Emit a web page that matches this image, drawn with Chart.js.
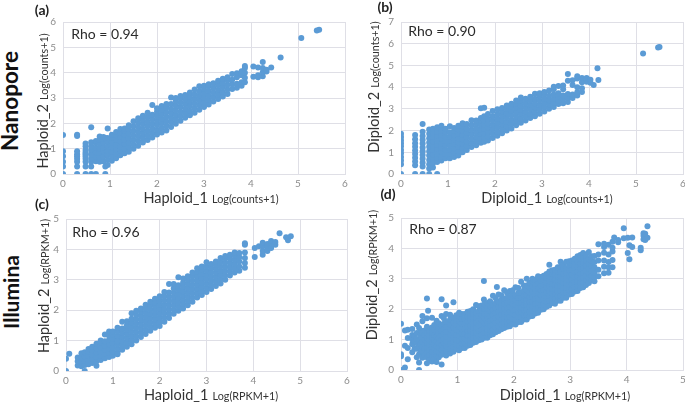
<!DOCTYPE html>
<html>
<head>
<meta charset="utf-8">
<script src="https://cdn.jsdelivr.net/npm/chart.js@4"></script>
<style>
  html, body { margin: 0; padding: 0; background: #fff; overflow: hidden; width: 685px; height: 402px; }
  canvas { position: absolute; filter: blur(0.35px); }
  .txt { position: absolute; white-space: nowrap; font-family: Lato, "Open Sans", sans-serif; color: #333; transform: translate(-50%, -50%); line-height: 1; }
  .rot { transform: translate(-50%, -50%) rotate(-90deg); }
  .rho { font-size: 14px; color: #2b2b2b; }
  .tag { font-size: 14px; font-weight: bold; color: #222; }
  .side { font-size: 22.5px; font-weight: bold; color: #111; }
  .side2 { font-size: 21px; font-weight: bold; color: #111; }
  .big { font-size: 14.5px; }
  .small { font-size: 10.8px; }
</style>
</head>
<body>
<canvas id="a"></canvas>
<canvas id="b"></canvas>
<canvas id="c"></canvas>
<canvas id="d"></canvas>
<script>
// each row: x value, then the y values read at that x
const nanoHaploid = [
  [0, 0,.3,.48,.7,.9,1.54],
  [.3, 0,.3,.48,.6,.7,.78,.9,1.5,1.55],
  [.48, 0,.3,.48,.6,.7,.78,.85,.95,1.1,1.2],
  [.6, 0,.3,.48,.6,.78,.95,1.1,1.25,1.85],
  [.7, 0,.5,.68,.86,1.04,1.22,1.3],
  [.78, .48,.66,.84,1.02,1.2,1.34,1.48],
  [.86, .5,.7,.88,1.06,1.24,1.38,1.46],
  [.9, 0,.3,1.42],
  [.95, .36,.55,.74,.92,1.1,1.28,1.42,1.8],
  [1.04, .52,.7,.88,1.06,1.24,1.42,1.55],
  [1.13, .62,.8,.98,1.16,1.34,1.52,1.66],
  [1.22, .74,.92,1.1,1.28,1.46,1.62,1.78],
  [1.31, .82,1,1.18,1.36,1.54,1.7,1.8],
  [1.4, .88,1.06,1.24,1.42,1.6,1.78,1.92],
  [1.5, 1,1.16,1.34,1.52,1.7,1.88,2.08],
  [1.6, 1.12,1.3,1.48,1.66,1.84,2.02,2.2],
  [1.7, 1.24,1.42,1.6,1.78,1.96,2.14,2.3],
  [1.8, 1.34,1.52,1.7,1.88,2.06,2.24,2.42],
  [1.9, 1.44,1.62,1.8,1.98,2.16,2.34,2.72],
  [2, 1.56,1.74,1.92,2.1,2.28,2.46,2.6],
  [2.1, 1.64,1.82,2,2.18,2.36,2.54,2.68],
  [2.2, 1.72,1.9,2.08,2.26,2.44,2.62,2.76],
  [2.3, 1.86,2.04,2.22,2.4,2.58,2.76,3.02],
  [2.4, 1.98,2.16,2.34,2.52,2.7,2.88,3],
  [2.5, 2.1,2.28,2.46,2.64,2.82,3,3.08],
  [2.6, 2.22,2.4,2.58,2.76,2.94,3.12],
  [2.7, 2.32,2.5,2.68,2.86,3.04,3.22],
  [2.8, 2.42,2.6,2.78,2.96,3.14,3.34],
  [2.9, 2.54,2.72,2.9,3.08,3.26,3.46],
  [3, 2.64,2.82,3,3.18,3.36,3.48],
  [3.1, 2.74,2.92,3.1,3.28,3.46,3.54],
  [3.2, 2.86,3.04,3.22,3.4,3.58],
  [3.3, 2.96,3.14,3.32,3.5,3.68],
  [3.4, 3.06,3.24,3.42,3.6,3.76],
  [3.5, 3.16,3.34,3.52,3.7,3.82],
  [3.6, 3.36,3.54,3.72,3.95],
  [3.7, 3.4,3.56,3.82,3.98],
  [3.8, 3.48,3.62,3.9,4.06],
  [3.87, 3.62,3.8,4,4.18,4.26],
  [4.05, 3.84,4.24],
  [4.15, 3.82,3.9,4.2],
  [4.25, 3.86,4.02,4.18,4.42],
  [4.33, 4.05,4.12],
  [4.43, 4.2],
  [4.63, 4.6],
  [5.07, 5.37],
  [5.4, 5.66],
  [5.45, 5.69]
];

const nanoDiploid = [
  [0, 0,.45,.62,.78,.95,1.1,1.28,1.42,1.55,1.7,1.85],
  [.3, 0,.4,.58,.75,.92,1.08,1.25,1.42,1.6,1.8],
  [.46, 0,.35,.52,.7,.88,1.05,1.22,1.4,1.58,1.75,1.95,2.3],
  [.6, 0,.25,.45,.65,.85,1.05,1.25,1.45,1.65,1.85,2.05],
  [.68, .3,.5,.7,.9,1.1,1.3,1.5,1.7,1.9,2.08],
  [.77, 0,.55,.75,.95,1.15,1.35,1.55,1.75,1.95,2.15],
  [.86, .62,.82,1.02,1.22,1.42,1.62,1.82,2,2.22],
  [.95, .72,.92,1.12,1.32,1.52,1.72,1.92,2.08],
  [1.04, .72,.92,1.12,1.32,1.52,1.72,1.92,2.2],
  [1.13, .78,.98,1.18,1.38,1.58,1.78,1.98,2.12],
  [1.22, .85,1.05,1.25,1.45,1.65,1.85,2.05,2.22],
  [1.31, 1,1.2,1.4,1.6,1.8,2,2.2,2.34],
  [1.4, 1.1,1.3,1.5,1.7,1.9,2.1,2.3],
  [1.5, 1.24,1.44,1.64,1.84,2.04,2.24,2.48],
  [1.6, 1.32,1.52,1.72,1.92,2.12,2.32,2.46],
  [1.7, 1.44,1.64,1.84,2.04,2.24,2.44,2.58,3.03],
  [1.77, 1.48,1.68,1.88,2.08,2.28,2.48,2.66,3.05],
  [1.85, 1.54,1.74,1.94,2.14,2.34,2.54,2.76],
  [1.95, 1.66,1.86,2.06,2.26,2.46,2.66,2.9],
  [2.05, 1.76,1.96,2.16,2.36,2.56,2.76,2.98],
  [2.15, 1.88,2.08,2.28,2.48,2.68,2.88,3.04],
  [2.25, 2,2.2,2.4,2.6,2.8,3,3.16],
  [2.35, 2.1,2.3,2.5,2.7,2.9,3.1,3.24],
  [2.45, 2.24,2.44,2.64,2.84,3.04,3.24,3.38],
  [2.55, 2.36,2.56,2.76,2.96,3.16,3.36,3.52],
  [2.65, 2.46,2.66,2.86,3.06,3.26,3.46],
  [2.75, 2.58,2.78,2.98,3.18,3.38,3.56],
  [2.85, 2.66,2.86,3.06,3.26,3.46,3.7],
  [2.95, 2.78,2.98,3.18,3.38,3.58,3.72],
  [3.05, 2.88,3.08,3.28,3.48,3.68,3.78],
  [3.15, 3,3.2,3.4,3.6,3.84],
  [3.25, 3.08,3.28,3.46,3.66,3.9,4.02],
  [3.35, 3.22,3.4,3.58,3.72,4.05],
  [3.45, 3.26,3.44,3.62,3.9,4.08],
  [3.55, 3.32,3.5,3.68,4.3,4.6],
  [3.65, 3.5,3.66,4.1,4.32],
  [3.75, 3.62,3.76,4,4.4,4.5],
  [3.85, 3.78,3.95,4.22,4.42],
  [3.95, 4.25,4.42],
  [4.03, 4.2,4.34],
  [4.1, 4.1],
  [4.18, 4.87],
  [4.2, 4.33],
  [5.15, 5.55],
  [5.47, 5.83],
  [5.5, 5.85]
];

const illuminaHaploid = [
  [0, 0,.4],
  [.07, .57],
  [.25, .18,.32,.44],
  [.33, .16,.3,.44,.58],
  [.4, 0,.2,.34,.48,.62],
  [.48, .22,.36,.5,.64,.72],
  [.56, .26,.4,.54,.68,.8],
  [.65, .17,.32,.46,.6,.74,.9],
  [.74, .36,.5,.64,.78,.92,1],
  [.83, .42,.56,.7,.84,.98,1.2],
  [.92, .46,.6,.74,.88,1.02,1.16,1.3],
  [1, .5,.64,.78,.92,1.06,1.2,1.3],
  [1.1, .6,.74,.88,1.02,1.16,1.3,1.42],
  [1.1, .55,.98],
  [1.2, .7,.84,.98,1.12,1.26,1.4,1.62],
  [1.3, .8,.94,1.08,1.22,1.36,1.5,1.64],
  [1.4, .88,1.02,1.16,1.3,1.44,1.58,1.72,1.9],
  [1.5, 1,1.14,1.28,1.42,1.56,1.7,1.84,1.98],
  [1.6, 1.12,1.26,1.4,1.54,1.68,1.82,1.96,2.06],
  [1.7, 1.22,1.36,1.5,1.64,1.78,1.92,2.06,2.18],
  [1.8, 1.32,1.46,1.6,1.74,1.88,2.02,2.16,2.28],
  [1.9, 1.42,1.56,1.7,1.84,1.98,2.12,2.26,2.38],
  [2, 1.48,1.62,1.76,1.9,2.04,2.18,2.32,2.46],
  [2.1, 1.62,1.76,1.9,2.04,2.18,2.32,2.46,2.6],
  [2.2, 1.74,1.88,2.02,2.16,2.3,2.44,2.58,2.86],
  [2.3, 1.88,2.02,2.16,2.3,2.44,2.58,2.72,2.86],
  [2.4, 1.98,2.12,2.26,2.4,2.54,2.68,2.82,3.08],
  [2.5, 2.06,2.2,2.34,2.48,2.62,2.76,2.9,3.04],
  [2.6, 2.16,2.3,2.44,2.58,2.72,2.86,3,3.12],
  [2.7, 2.28,2.42,2.56,2.7,2.84,2.98,3.12,3.24],
  [2.8, 2.42,2.56,2.7,2.84,2.98,3.12,3.26,3.38],
  [2.9, 2.5,2.64,2.78,2.92,3.06,3.2,3.34,3.44],
  [3, 2.6,2.74,2.88,3.02,3.16,3.3,3.44,3.58],
  [3.1, 2.7,2.84,2.98,3.12,3.26,3.4,3.52],
  [3.2, 2.8,2.94,3.08,3.22,3.36,3.5,3.6],
  [3.3, 2.88,3.02,3.16,3.3,3.44,3.58,3.72],
  [3.4, 3,3.14,3.28,3.42,3.56,3.7,3.78],
  [3.5, 3.14,3.28,3.42,3.56,3.7,3.82],
  [3.6, 3.24,3.38,3.52,3.66,3.8,3.9],
  [3.7, 3.3,3.44,3.6,3.74,3.88],
  [3.82, 3.4,3.55,3.72,3.9,4.15,4.2],
  [4.03, 3.75,4.05],
  [4.12, 4.1],
  [4.2, 3.82,3.95,4.1,4.22],
  [4.3, 3.95,4.05,4.18],
  [4.38, 4.05,4.2,4.28],
  [4.47, 4.15,4.24],
  [4.56, 4.53],
  [4.7, 4.4],
  [4.74, 4.3],
  [4.8, 4.43]
];

const illuminaDiploid = [
  [0, 0,.45,.52,1.52],
  [.07, .08,.8,1.3],
  [.12, .35,.72,1.05,1.32],
  [.2, .58,.85,1,1.15,1.35],
  [.24, .7,.95,1.12],
  [.28, .42,.7,.88,1.02,1.22,1.5],
  [.32, 0,.25,.52,.78,.95,1.38],
  [.35, .6,.86,1.14,1.3],
  [.38, .4,.6,.76,.92,1.08,1.24,1.6,1.78],
  [.42, .5,.68,.84,1,1.16,1.3],
  [.46, .22,.42,.58,.74,.9,1.06,1.22,1.42,1.7,2.35],
  [.48, 1.95],
  [.5, .34,.5,.66,.82,.98,1.14,1.3],
  [.55, .28,.44,.6,.76,.92,1.08,1.24,1.4,1.72],
  [.59, .36,.52,.68,.84,1,1.16,1.32,1.48],
  [.63, .26,.46,.62,.78,.94,1.1,1.26,1.42,1.62],
  [.67, .42,.58,.74,.9,1.06,1.22,1.38,1.54],
  [.72, .18,.5,.66,.82,.98,1.14,1.3,1.46,1.78,2.33],
  [.76, .56,.72,.88,1.04,1.2,1.36,1.52,1.7],
  [.8, .48,.62,.78,.94,1.1,1.26,1.42,1.58,1.84,2.12],
  [.87, .54,.7,.86,1.02,1.18,1.34,1.5,1.66,1.82],
  [.93, .6,.76,.92,1.08,1.24,1.4,1.56,1.72,2.23],
  [.98, .68,.84,1,1.16,1.32,1.48,1.64,1.8],
  [1.03, .65,.8,.96,1.12,1.28,1.44,1.6,1.76,1.88],
  [1.08, .72,.88,1.04,1.2,1.36,1.52,1.68,1.84],
  [1.13, .72,.88,1.04,1.2,1.36,1.52,1.68,1.84],
  [1.18, .8,.96,1.12,1.28,1.44,1.6,1.76,1.92],
  [1.23, .82,.98,1.14,1.3,1.46,1.62,1.78,1.94],
  [1.28, .9,1.06,1.22,1.38,1.54,1.7,1.86,2],
  [1.33, .92,1.08,1.24,1.4,1.56,1.72,1.88,2.14],
  [1.38, .98,1.14,1.3,1.46,1.62,1.78,1.94,2.1],
  [1.43, 1,1.16,1.32,1.48,1.64,1.8,1.96,2.12],
  [1.47, 2.93,2.32],
  [1.48, 1.06,1.22,1.38,1.54,1.7,1.86,2.02,2.16],
  [1.53, 1.06,1.22,1.38,1.54,1.7,1.86,2.02,2.2],
  [1.58, 1.14,1.3,1.46,1.62,1.78,1.94,2.1,2.26],
  [1.63, 1.18,1.34,1.5,1.66,1.82,1.98,2.14,2.44],
  [1.68, 1.24,1.4,1.56,1.72,1.88,2.04,2.2,2.36],
  [1.7, 2.73],
  [1.73, 1.28,1.44,1.6,1.76,1.92,2.08,2.24,2.48],
  [1.78, 1.34,1.5,1.66,1.82,1.98,2.14,2.3,2.46],
  [1.83, 1.38,1.54,1.7,1.86,2.02,2.18,2.34,2.62],
  [1.88, 1.42,1.58,1.74,1.9,2.06,2.22,2.38,2.54],
  [1.93, 1.44,1.6,1.76,1.92,2.08,2.24,2.4,2.6],
  [1.98, 1.52,1.68,1.84,2,2.16,2.32,2.48,2.62],
  [2.03, 1.5,1.66,1.82,1.98,2.14,2.3,2.46,2.72],
  [2.08, 1.58,1.74,1.9,2.06,2.22,2.38,2.54,2.7],
  [2.13, 1.58,1.74,1.9,2.06,2.22,2.38,2.54,2.9],
  [2.18, 1.66,1.82,1.98,2.14,2.3,2.46,2.62,2.78],
  [2.23, 1.66,1.82,1.98,2.14,2.3,2.46,2.62,2.78,3],
  [2.28, 1.76,1.92,2.08,2.24,2.4,2.56,2.72,2.88],
  [2.33, 1.78,1.94,2.1,2.26,2.42,2.58,2.74,2.9,3],
  [2.38, 1.86,2.02,2.18,2.34,2.5,2.66,2.82,2.96],
  [2.43, 1.88,2.04,2.2,2.36,2.52,2.68,2.84,3,3.08],
  [2.48, 1.98,2.14,2.3,2.46,2.62,2.78,2.94,3.06],
  [2.53, 2,2.16,2.32,2.48,2.64,2.8,2.96,3.1],
  [2.58, 2.08,2.24,2.4,2.56,2.72,2.88,3.04,3.16],
  [2.63, 2.12,2.28,2.44,2.6,2.76,2.92,3.08,3.24,3.46],
  [2.68, 2.2,2.36,2.52,2.68,2.84,3,3.16,3.28],
  [2.73, 2.18,2.34,2.5,2.66,2.82,2.98,3.14,3.3],
  [2.78, 2.28,2.44,2.6,2.76,2.92,3.08,3.24,3.38],
  [2.83, 2.28,2.44,2.6,2.76,2.92,3.08,3.24,3.4,3.56],
  [2.88, 2.38,2.54,2.7,2.86,3.02,3.18,3.34,3.48],
  [2.93, 2.38,2.54,2.7,2.86,3.02,3.18,3.34,3.56],
  [2.98, 2.48,2.64,2.8,2.96,3.12,3.28,3.44,3.58],
  [3.03, 2.5,2.66,2.82,2.98,3.14,3.3,3.46,3.6],
  [3.08, 2.58,2.74,2.9,3.06,3.22,3.38,3.54,3.66],
  [3.13, 2.6,2.76,2.92,3.08,3.24,3.4,3.56,3.74],
  [3.18, 2.7,2.86,3.02,3.18,3.34,3.5,3.66,3.78],
  [3.23, 2.72,2.88,3.04,3.2,3.36,3.52,3.7,3.85],
  [3.28, 2.8,2.96,3.12,3.28,3.44,3.6,3.76],
  [3.33, 2.86,3.02,3.18,3.34,3.5,3.66,3.88],
  [3.38, 2.94,3.1,3.26,3.42,3.58,3.74],
  [3.43, 2.92,3.06,3.2,3.38,3.55,3.75],
  [3.5, 3.08,3.3,3.6,3.8,4.14],
  [3.6, 3.18,3.4,3.6,3.86,4.05,4.15],
  [3.68, 3.2,3.38,3.55,3.8,4.12],
  [3.75, 3.38,3.62,3.9,4.02,4.22],
  [3.78, 4.36],
  [3.85, 4.2,4.28],
  [3.95, 4.33,4.66],
  [4.02, 3.85,4.35],
  [4.05, 3.64,4.1],
  [4.1, 4.05,4.36],
  [4.25, 3.94,4.02],
  [4.3, 4.3,4.42,4.5],
  [4.33, 4.28,4.48],
  [4.37, 4.35,4.73]
];

const nanoHaploidTicksY = [0, 1, 2, 3, 4, 5, 6];
const nanoDiploidTicksY = [0, 1, 2, 3, 4, 5, 6, 7];
const illuminaTicksY = [0, 1, 2, 3, 4, 5];

function toPoints(rows) {
  return rows.flatMap(r => r.slice(1).map(y => ({ x: r[0], y: y })));
}

// box = where the plot area has to land on the page
function drawPanel(id, rows, xMax, yMax, box) {
  const canvas = document.getElementById(id);
  const padLeft = 26, padTop = 9, padRight = 9, padBottom = 17;
  canvas.style.left = (box.left - padLeft) + "px";
  canvas.style.top = (box.top - padTop) + "px";
  canvas.width = box.right - box.left + padLeft + padRight;
  canvas.height = box.bottom - box.top + padTop + padBottom;
  canvas.style.width = canvas.width + "px";
  canvas.style.height = canvas.height + "px";

  new Chart(canvas, {
    type: "scatter",
    data: {
      datasets: [{
        data: toPoints(rows),
        backgroundColor: "#5B9BD5",
        borderWidth: 0,
        pointRadius: 3
      }]
    },
    options: {
      responsive: false,
      animation: false,
      layout: { padding: { top: padTop, right: padRight, left: 0, bottom: 0 } },
      plugins: { legend: { display: false }, tooltip: { enabled: false } },
      scales: {
        x: {
          type: "linear", min: 0, max: xMax,
          afterFit: s => { s.height = padBottom; },
          grid: { color: "#DFDFE6", lineWidth: 1, drawTicks: false },
          border: { color: "#DFDFE6" },
          ticks: { stepSize: 1, color: "#8C8C8C", font: { family: "Lato", size: 10 }, padding: 4, maxRotation: 0 }
        },
        y: {
          type: "linear", min: 0, max: yMax,
          afterFit: s => { s.width = padLeft; },
          grid: { color: "#DFDFE6", lineWidth: 1, drawTicks: false },
          border: { color: "#DFDFE6" },
          ticks: { stepSize: 1, color: "#8C8C8C", font: { family: "Lato", size: 10 }, padding: 7 }
        }
      }
    }
  });
}

drawPanel("a", nanoHaploid, 6, nanoHaploidTicksY.at(-1), { left: 63, right: 345, top: 18, bottom: 174 });
drawPanel("b", nanoDiploid, 6, nanoDiploidTicksY.at(-1), { left: 401, right: 683, top: 18, bottom: 174 });
drawPanel("c", illuminaHaploid, 6, illuminaTicksY.at(-1), { left: 66, right: 347, top: 215, bottom: 371 });
drawPanel("d", illuminaDiploid, 5, illuminaTicksY.at(-1), { left: 401, right: 683, top: 214, bottom: 370 });

// page text: [html, centre x, centre y, css class, rotated]
const pageText = [
  ["Nanopore", 10, 101, "side", true],
  ["Illumina", 10, 292, "side2", true],
  ["(a)", 42, 10, "tag"],
  ["(b)", 385, 7, "tag"],
  ["(c)", 42, 204, "tag"],
  ["(d)", 388, 194, "tag"],
  ["Rho = 0.94", 105, 34, "rho"],
  ["Rho = 0.90", 442, 31, "rho"],
  ["Rho = 0.96", 106, 232, "rho"],
  ["Rho = 0.87", 443, 229, "rho"],
  ['<span class="big">Haploid_1</span> <span class="small">Log(counts+1)</span>', 211, 197, ""],
  ['<span class="big">Diploid_1</span> <span class="small">Log(counts+1)</span>', 547, 197, ""],
  ['<span class="big">Haploid_1</span> <span class="small">Log(RPKM+1)</span>', 211, 394, ""],
  ['<span class="big">Diploid_1</span> <span class="small">Log(RPKM+1)</span>', 565, 394, ""],
  ['<span class="big">Haploid_2</span> <span class="small">Log(counts+1)</span>', 42, 101, "", true],
  ['<span class="big">Diploid_2</span> <span class="small">Log(counts+1)</span>', 373, 87, "", true],
  ['<span class="big">Haploid_2</span> <span class="small">Log(RPKM+1)</span>', 43, 286, "", true],
  ['<span class="big">Diploid_2</span> <span class="small">Log(RPKM+1)</span>', 371, 275, "", true]
];

pageText.forEach(([html, x, y, cls, rotated]) => {
  const el = document.createElement("div");
  el.className = "txt " + cls + (rotated ? " rot" : "");
  el.style.left = x + "px";
  el.style.top = y + "px";
  el.innerHTML = html;
  document.body.appendChild(el);
});
</script>
</body>
</html>
